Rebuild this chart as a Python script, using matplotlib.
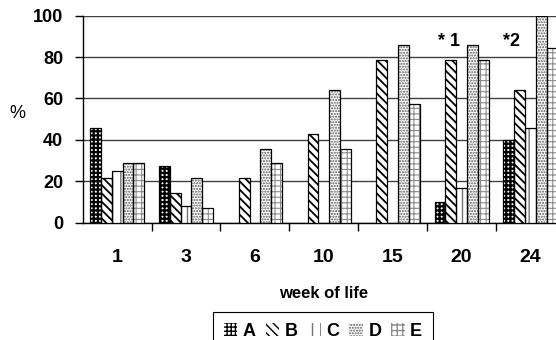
import numpy as np
import matplotlib
matplotlib.use("Agg")
import matplotlib.pyplot as plt
from matplotlib.patches import Patch

weeks = ["1", "3", "6", "10", "15", "20", "24"]
groups = ["A", "B", "C", "D", "E"]
A = [45.5, 27.3, 0, 0, 0, 10.0, 40.0]
B = [21.4, 14.3, 21.4, 42.9, 78.6, 78.6, 64.3]
C = [25.0, 8.3, 0, 0, 0, 16.7, 45.5]
D = [28.6, 21.4, 35.7, 64.3, 85.7, 85.7, 100.0]
E = [28.6, 7.1, 28.6, 35.7, 57.1, 78.6, 84.3]
series = [A, B, C, D, E]
notes = [("* 1", 4.82, 87.5), ("*2", 5.72, 87.5)]

hatches = ["++++", "\\\\\\\\", "||", "......", "+++"]
hcolors = ["black", "black", "0.45", "0.35", "0.55"]
hlw = [1.6, 1.3, 1.0, 1.0, 0.8]

plt.rcParams.update({"font.family": "Liberation Sans"})
fig = plt.figure(figsize=(5.56, 3.40), dpi=100)
ax = fig.add_axes([0.1487, 0.345, 0.8674, 0.609])

x = np.arange(len(weeks))
w = 0.157
for j, vals in enumerate(series):
    v = np.asarray(vals, dtype=float)
    m = v > 0
    xs = x[m] + (j - 2) * w
    with plt.rc_context({"hatch.linewidth": hlw[j]}):
        ax.bar(xs, v[m], w, color="white", edgecolor=hcolors[j],
               hatch=hatches[j], lw=0, zorder=3)
    ax.bar(xs, v[m], w, fill=False, edgecolor="black", lw=0.9, zorder=4)

for txt, xx, yy in notes:
    ax.text(xx, yy, txt, ha="center", va="center", fontsize=13,
            fontweight="bold", zorder=5)

ax.set_xlim(-0.5, len(weeks) - 0.5)
ax.set_ylim(0, 100)
ax.set_yticks(np.arange(0, 101, 20))
ax.yaxis.grid(True, color="0.25", lw=1.0)
ax.set_axisbelow(True)
for s in ("top", "right"):
    ax.spines[s].set_visible(False)
for s in ("left", "bottom"):
    ax.spines[s].set_color("black")
    ax.spines[s].set_linewidth(1.0)

ax.set_xticks(x)
ax.set_xticklabels(weeks, fontsize=14, fontweight="bold")
ax.set_xticks(x[:-1] + 0.5, minor=True)
ax.tick_params(axis="x", which="major", length=0, pad=19)
ax.tick_params(axis="x", which="minor", length=6, width=1, direction="out")
ax.tick_params(axis="y", length=6, width=1, pad=8, labelsize=13)
for lab in ax.get_yticklabels():
    lab.set_fontweight("bold")

ax.set_xlabel("week of life", fontsize=12, fontweight="bold", labelpad=14)
fig.text(17 / 556, 1 - 114 / 340, "%", fontsize=13, ha="center", va="center")

handles = []
for j in range(len(groups)):
    with plt.rc_context({"hatch.linewidth": hlw[j]}):
        handles.append(Patch(facecolor="white", edgecolor=hcolors[j],
                             hatch=hatches[j], lw=0))
leg = fig.legend(handles, groups, loc="upper center", ncol=5,
                 bbox_to_anchor=(323 / 556, 1 - 312 / 340),
                 prop={"weight": "bold", "size": 13}, fancybox=False,
                 edgecolor="black", framealpha=1, handlelength=0.75,
                 handleheight=0.75, handletextpad=0.3, columnspacing=0.55,
                 borderpad=0.6, borderaxespad=0)
leg.get_frame().set_linewidth(0.8)

fig.savefig("out.png", dpi=100)
